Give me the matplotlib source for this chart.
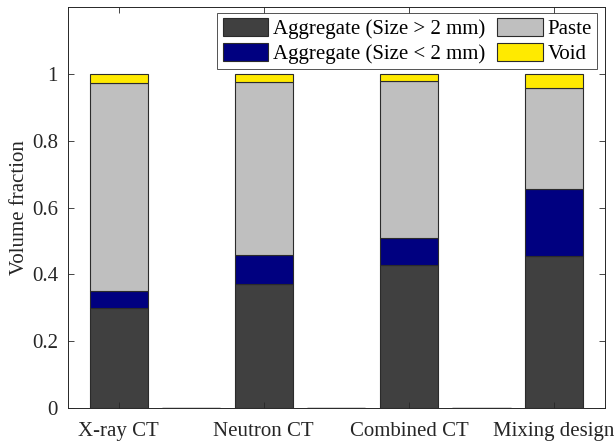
import matplotlib
matplotlib.use("Agg")
import matplotlib.pyplot as plt
import numpy as np

plt.rcParams['font.family'] = ['Liberation Serif', 'DejaVu Serif']

# Bar slots: methods sit on odd slots, empty spacer slots in between
positions = [1, 2, 3, 4, 5, 6, 7]
tick_positions = [1, 3, 5, 7]
tick_labels = ['X-ray CT', 'Neutron CT', 'Combined CT', 'Mixing design']

agg_coarse = [0.298, 0.0, 0.371, 0.0, 0.428, 0.0, 0.455]
agg_fine = [0.052, 0.0, 0.087, 0.0, 0.080, 0.0, 0.200]
paste = [0.622, 0.0, 0.518, 0.0, 0.470, 0.0, 0.302]
void = [0.028, 0.0, 0.024, 0.0, 0.022, 0.0, 0.043]

series = [
    (agg_coarse, 'Aggregate (Size > 2 mm)', '#404040'),
    (agg_fine, 'Aggregate (Size < 2 mm)', '#000080'),
    (paste, 'Paste', '#bfbfbf'),
    (void, 'Void', '#ffea00'),
]

axcol = '#262626'
fig = plt.figure(figsize=(6.16, 4.43), dpi=100)
ax = fig.add_axes([0.110, 0.079, 0.872, 0.905])

bottom = np.zeros(len(positions))
handles = []
for vals, label, color in series:
    h = ax.bar(positions, vals, width=0.8, bottom=bottom, color=color,
               edgecolor='#2b2b2b', linewidth=0.8, label=label)
    handles.append(h)
    bottom += np.array(vals)

ax.set_xlim(0.3, 7.7)
ax.set_ylim(0, 1.2)
ax.set_xticks(tick_positions)
ax.set_xticklabels(tick_labels)
ax.set_yticks([0, 0.2, 0.4, 0.6, 0.8, 1.0])
ax.set_yticklabels(['0', '0.2', '0.4', '0.6', '0.8', '1'])
ax.set_ylabel('Volume fraction', fontsize=15, color=axcol, labelpad=2)

ax.tick_params(direction='in', top=True, right=True, length=4, width=0.6,
               labelsize=15, colors=axcol)
ax.tick_params(axis='x', pad=10)
ax.tick_params(axis='y', pad=7)
for s in ax.spines.values():
    s.set_color(axcol)
    s.set_linewidth(0.7)

leg = ax.legend(handles=handles, ncol=2, loc='upper right',
                bbox_to_anchor=(0.985, 0.985), fontsize=15,
                frameon=True, fancybox=False, edgecolor='#262626',
                handlelength=2.2, handleheight=0.9, handletextpad=0.2,
                columnspacing=0.6, labelspacing=0.2, borderpad=0.25,
                borderaxespad=0.0)
leg.get_frame().set_linewidth(0.7)

fig.savefig('out.png', dpi=100)
